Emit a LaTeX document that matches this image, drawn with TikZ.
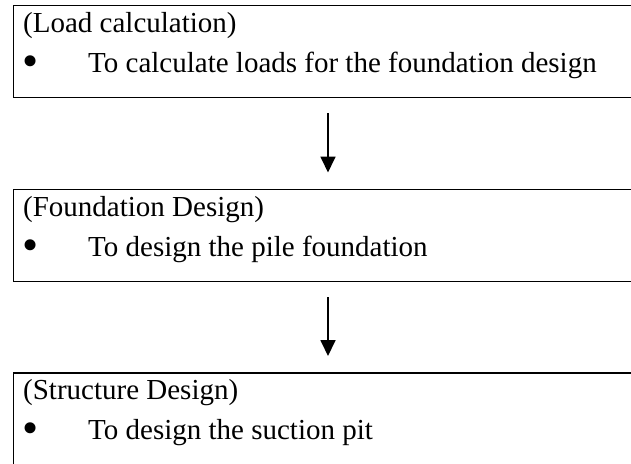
\documentclass[tikz,border=0pt]{standalone}
\usepackage{fontspec}
\setmainfont{Liberation Serif}
\usetikzlibrary{arrows.meta}
\begin{document}
\begin{tikzpicture}[x=1pt,y=-1pt,
  stagebox/.style={draw=black,line width=1.6pt,rectangle,minimum width=687.5pt,inner sep=0pt,anchor=north west},
  txt/.style={anchor=base west,inner sep=0pt,font=\fontsize{29}{33}\selectfont},
  dot/.style={anchor=base west,inner sep=0pt,font=\fontsize{46}{46}\selectfont},
  flow/.style={line width=1.8pt,-{Triangle[width=15pt,length=16pt]},shorten <=15pt,shorten >=16pt}]
\useasboundingbox (0,0) rectangle (631,463);
\clip (0,0) rectangle (631,463);
\node[stagebox,minimum height=92pt] (b1) at (12.5,4.5) {};
\node[stagebox,minimum height=92pt] (b2) at (12.5,188.5) {};
\node[stagebox,minimum height=120pt] (b3) at (12.5,372) {};
\node[txt] (t1) at (23,32) {(Load calculation)};
\node[dot] (d1) at (22,76) {\textbullet};
\node[txt] (e1) at (88,72) {To calculate loads for the foundation design};
\node[txt] (t2) at (23,216) {(Foundation Design)};
\node[dot] (d2) at (22,260) {\textbullet};
\node[txt] (e2) at (88,256) {To design the pile foundation};
\node[txt] (t3) at (23,399.5) {(Structure Design)};
\node[dot] (d3) at (22,443.5) {\textbullet};
\node[txt] (e3) at (88,439.5) {To design the suction pit};
\coordinate (a1s) at (b1.south -| 328,0);
\coordinate (a1e) at (b2.north -| 328,0);
\coordinate (a2s) at (b2.south -| 328,0);
\coordinate (a2e) at (b3.north -| 328,0);
\draw[flow] (a1s) -- (a1e);
\draw[flow] (a2s) -- (a2e);
\end{tikzpicture}
\end{document}
